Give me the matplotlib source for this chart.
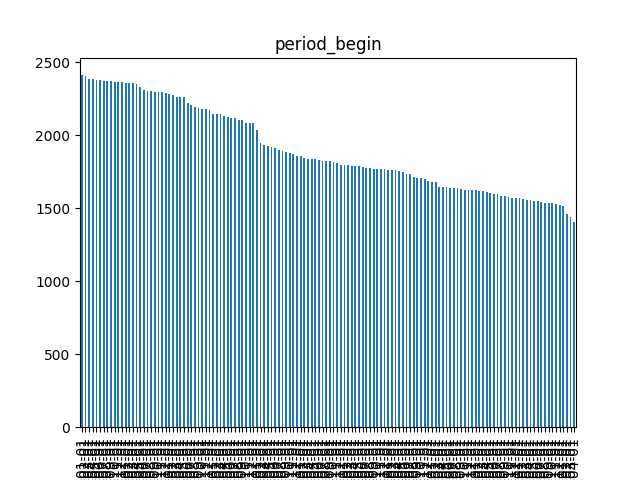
import matplotlib
matplotlib.use("Agg")
import matplotlib.pyplot as plt
import pandas as pd

valores = [
    2411, 2404, 2384, 2384, 2377, 2377, 2370, 2370, 2370, 2363, 2363, 2363,
    2356, 2356, 2356, 2350, 2327, 2308, 2302, 2302, 2295, 2295, 2295, 2288,
    2281, 2272, 2265, 2260, 2260, 2219, 2206, 2192, 2185, 2178, 2178, 2171,
    2144, 2144, 2144, 2130, 2124, 2117, 2117, 2103, 2103, 2082, 2082, 2082,
    2034, 1945, 1932, 1925, 1918, 1911, 1897, 1891, 1884, 1877, 1870, 1856,
    1856, 1843, 1836, 1836, 1836, 1829,
    1822, 1822, 1822, 1815, 1808, 1795, 1795, 1795, 1788, 1788, 1788, 1781,
    1774, 1774, 1767, 1767, 1767, 1767, 1760, 1760, 1760, 1754, 1747, 1733,
    1733, 1713, 1706, 1706, 1699, 1685, 1678, 1678, 1644, 1644, 1644, 1637,
    1637, 1637, 1630, 1623, 1623, 1623, 1623, 1617, 1617, 1610, 1603, 1596,
    1596, 1582, 1582, 1576, 1569, 1569, 1569, 1562, 1555, 1555, 1548, 1548,
    1541, 1534, 1534, 1534, 1528, 1521, 1514, 1459, 1439, 1404,
]
fechas = [d.strftime("%Y-%m-%d") for d in pd.date_range("2012-01-01", periods=len(valores), freq="MS")]

serie = pd.Series(valores, index=fechas)
fig, ax = plt.subplots(figsize=(6.4, 4.8), dpi=100)
serie.plot.bar(ax=ax, color="#1f77b4")
ax.set_title("period_begin")
fig.savefig("out.png")
